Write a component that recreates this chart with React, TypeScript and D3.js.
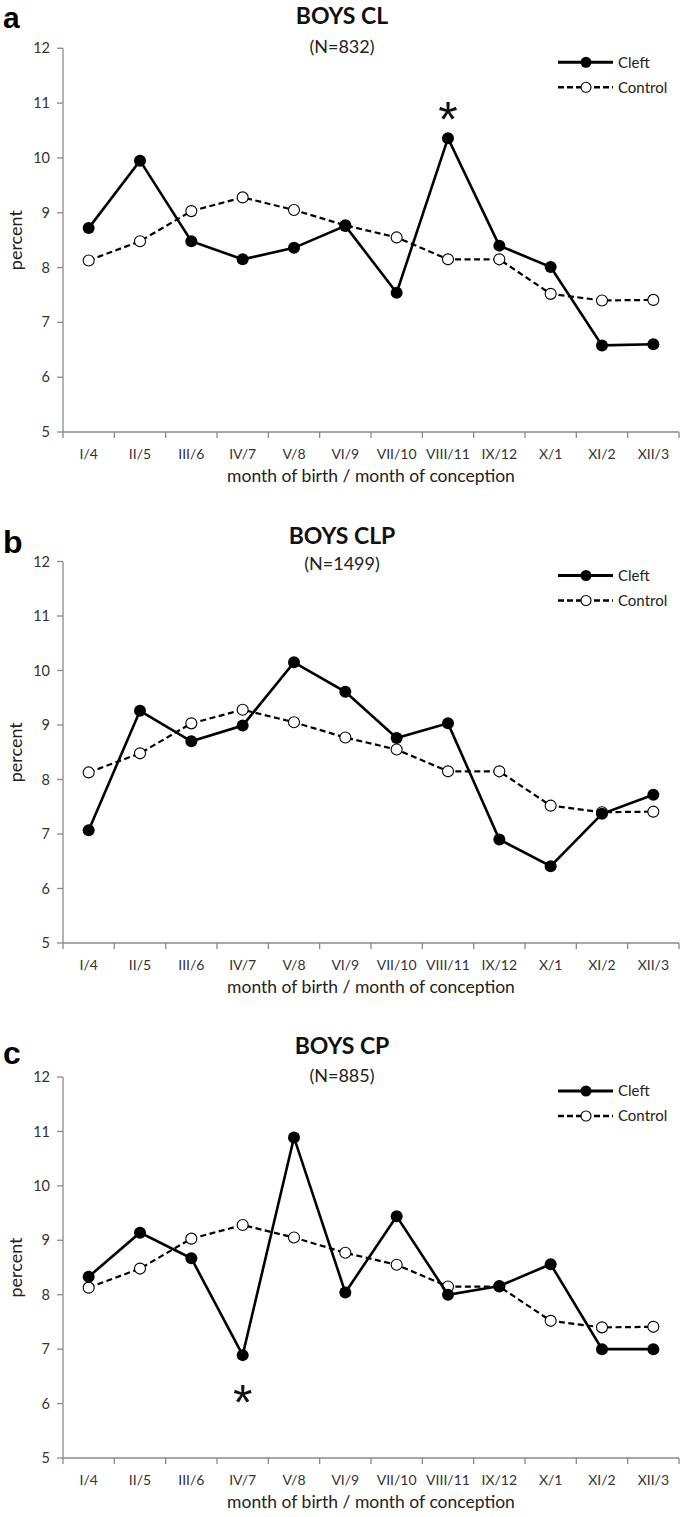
import * as d3 from "d3";

// month of birth / month of conception
const months = ["I/4", "II/5", "III/6", "IV/7", "V/8", "VI/9", "VII/10", "VIII/11", "IX/12", "X/1", "XI/2", "XII/3"];

// percent of births per month
const controlPct = [8.13, 8.48, 9.03, 9.28, 9.05, 8.77, 8.55, 8.15, 8.15, 7.52, 7.40, 7.41];
const cleftCL = [8.72, 9.95, 8.48, 8.15, 8.36, 8.76, 7.54, 10.36, 8.40, 8.01, 6.58, 6.60];
const cleftCLP = [7.07, 9.26, 8.70, 8.99, 10.15, 9.61, 8.76, 9.03, 6.90, 6.41, 7.37, 7.72];
const cleftCP = [8.33, 9.14, 8.67, 6.89, 10.89, 8.04, 9.44, 8.00, 8.16, 8.56, 7.00, 7.00];

const yTicks = [5, 6, 7, 8, 9, 10, 11, 12];

const panelLetters = ["a", "b", "c"];
const panelTitles = ["BOYS CL", "BOYS CLP", "BOYS CP"];
const panelNs = ["(N=832)", "(N=1499)", "(N=885)"];
const panelCleft = [cleftCL, cleftCLP, cleftCP];
// significant month (index), or -1
const starIndex = [7, -1, 3];

const W = 685;
const H = 1517;
const xLeft = 63;
const xRight = 679;

// per panel layout in pixels
const layout = [
  { top: 48.3, bottom: 432, letterY: 28, titleY: 24, nY: 53, starAbove: true },
  { top: 561.5, bottom: 943, letterY: 553, titleY: 544, nY: 570, starAbove: true },
  { top: 1077, bottom: 1458, letterY: 1064, titleY: 1054, nY: 1082, starAbove: false },
];

const FONT = "Lato, 'Open Sans', sans-serif";
const AXIS = "#8a8a8a";

const Panel = ({ i }: { i: number }) => {
  const L = layout[i];
  const cleft = panelCleft[i];
  const x = d3.scaleBand<string>().domain(months).range([xLeft, xRight]);
  const bw = x.bandwidth();
  const cx = (m: string) => (x(m) as number) + bw / 2;
  const y = d3.scaleLinear().domain([5, 12]).range([L.bottom, L.top]);

  const line = d3
    .line<number>()
    .x((_, j) => cx(months[j]))
    .y((d) => y(d));

  const legX1 = 558;
  const legX2 = 613;
  const legY1 = L.top + 14;
  const legY2 = L.top + 39;

  const si = starIndex[i];
  let star = null;
  if (si >= 0) {
    const py = y(cleft[si]);
    const centerY = L.starAbove ? py - 29 : py + 37;
    star = (
      <text x={cx(months[si])} y={centerY + 28} textAnchor="middle" fontSize={50} fontFamily="'Liberation Sans', Arial" fill="#111">
        *
      </text>
    );
  }

  return (
    <g>
      <text x={3} y={L.letterY} fontSize={i === 0 ? 30 : 32} fontWeight="bold" fontFamily="'Liberation Sans', Arial" fill="#000">
        {panelLetters[i]}
      </text>
      <text x={342} y={L.titleY} textAnchor="middle" fontSize={23} fontWeight="bold" fontFamily={FONT} fill="#111">
        {panelTitles[i]}
      </text>
      <text x={342} y={L.nY} textAnchor="middle" fontSize={18} fontFamily={FONT} fill="#222">
        {panelNs[i]}
      </text>

      {/* y axis */}
      <line x1={xLeft} x2={xLeft} y1={L.top} y2={L.bottom} stroke={AXIS} strokeWidth={1.3} />
      {yTicks.map((t) => (
        <g key={t}>
          <line x1={xLeft - 6} x2={xLeft} y1={y(t)} y2={y(t)} stroke={AXIS} strokeWidth={1.3} />
          <text x={50} y={y(t)} dy="0.35em" textAnchor="end" fontSize={14.5} fontFamily={FONT} fill="#333">
            {t}
          </text>
        </g>
      ))}
      <text
        transform={`translate(22, ${(L.top + L.bottom) / 2}) rotate(-90)`}
        textAnchor="middle"
        fontSize={18}
        fontFamily={FONT}
        fill="#222"
      >
        percent
      </text>

      {/* x axis */}
      <line x1={xLeft} x2={xRight} y1={L.bottom} y2={L.bottom} stroke={AXIS} strokeWidth={1.3} />
      {months.map((m) => (
        <g key={m}>
          <line x1={(x(m) as number) + bw} x2={(x(m) as number) + bw} y1={L.bottom} y2={L.bottom + 6} stroke={AXIS} strokeWidth={1.3} />
          <text x={cx(m)} y={L.bottom + 22} dy="0.35em" textAnchor="middle" fontSize={14} fontFamily={FONT} fill="#333">
            {m}
          </text>
        </g>
      ))}
      <line x1={xLeft} x2={xLeft} y1={L.bottom} y2={L.bottom + 6} stroke={AXIS} strokeWidth={1.3} />
      <text x={(xLeft + xRight) / 2} y={L.bottom + 44} dy="0.35em" textAnchor="middle" fontSize={17.5} fontFamily={FONT} fill="#222">
        month of birth / month of conception
      </text>

      {/* control */}
      <path d={line(controlPct) as string} fill="none" stroke="#000" strokeWidth={2.2} strokeDasharray="6,3.5" />
      {controlPct.map((v, j) => (
        <circle key={j} cx={cx(months[j])} cy={y(v)} r={5.5} fill="#fff" stroke="#000" strokeWidth={1.1} />
      ))}

      {/* cleft */}
      <path d={line(cleft) as string} fill="none" stroke="#000" strokeWidth={2.6} />
      {cleft.map((v, j) => (
        <circle key={j} cx={cx(months[j])} cy={y(v)} r={6} fill="#000" />
      ))}

      {star}

      {/* legend */}
      <line x1={legX1} x2={legX2} y1={legY1} y2={legY1} stroke="#000" strokeWidth={3} />
      <circle cx={586} cy={legY1} r={5.5} fill="#000" />
      <text x={618} y={legY1} dy="0.35em" fontSize={15} fontFamily={FONT} fill="#222">
        Cleft
      </text>
      <line x1={legX1} x2={legX2} y1={legY2} y2={legY2} stroke="#000" strokeWidth={2.6} strokeDasharray="6,3" />
      <circle cx={586} cy={legY2} r={5} fill="#fff" stroke="#000" strokeWidth={1.1} />
      <text x={618} y={legY2} dy="0.35em" fontSize={15} fontFamily={FONT} fill="#222">
        Control
      </text>
    </g>
  );
};

export default function App() {
  return (
    <svg width={W} height={H} style={{ position: "absolute", left: 0, top: 0, background: "#fff" }}>
      <rect width={W} height={H} fill="#fff" />
      {[0, 1, 2].map((i) => (
        <Panel key={i} i={i} />
      ))}
    </svg>
  );
}
